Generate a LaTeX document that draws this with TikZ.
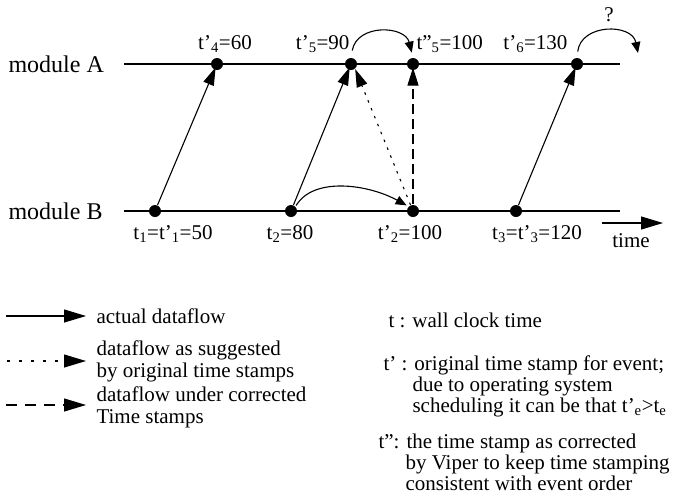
\documentclass[tikz,border=0pt]{standalone}
\usepackage{fontspec}
\setmainfont{Liberation Serif}
\usetikzlibrary{arrows.meta,positioning}

\begin{document}
\begin{tikzpicture}[x=1pt,y=-1pt,line width=1.1pt,
   font=\fontsize{21}{22}\selectfont,
   ev/.style={circle,fill,inner sep=0pt,minimum size=12pt},
   flow/.style={-{Triangle[length=18pt,width=11pt]},shorten >=-3pt},
   bendarr/.style={-{Triangle[length=11pt,width=9pt]}},
   key/.style={-{Triangle[length=22pt,width=13pt]}},
   txt/.style={inner sep=0pt,anchor=base west},
   stamp/.style={inner sep=0pt,anchor=base}]
  \useasboundingbox (0,0) rectangle (683,496);
  % the two time lines
  \node[txt,font=\fontsize{24}{26}\selectfont] (modA) at (8,72) {module A};
  \node[txt,font=\fontsize{24}{26}\selectfont] (modB) at (8,219) {module B};
  \coordinate (A0) at (124,64);
  \coordinate (A1) at (620,64);
  \coordinate (B0) at (124,211);
  \coordinate (B1) at (620,211);
  \draw (A0) -- (A1);
  \draw (B0) -- (B1);
  % events
  \node[ev] (a4)  at (217,64) {};
  \node[ev] (a5)  at (351,64) {};
  \node[ev] (a5c) at (413,64) {};
  \node[ev] (a6)  at (577,64) {};
  \node[ev] (b1)  at (155,211) {};
  \node[ev] (b2)  at (291,211) {};
  \node[ev] (b2c) at (413,211) {};
  \node[ev] (b3)  at (516,211) {};
  % time stamps
  \node[stamp] (sA4) at (225,49) {t'\textsubscript{4}=60};
  \node[stamp,anchor=base east] (sA5) at (350,49) {t'\textsubscript{5}=90};
  \node[stamp,anchor=base west] (sA5c) at (416,49) {t''\textsubscript{5}=100};
  \node[stamp,anchor=base east] (sA6) at (568,49) {t'\textsubscript{6}=130};
  \node[stamp] (sB1) at (173,239) {t\textsubscript{1}=t'\textsubscript{1}=50};
  \node[stamp] (sB2) at (290,239) {t\textsubscript{2}=80};
  \node[stamp] (sB2c) at (410,239) {t'\textsubscript{2}=100};
  \node[stamp] (sB3) at (537,239) {t\textsubscript{3}=t'\textsubscript{3}=120};
  \node[stamp] (timel) at (631,247) {time};
  \coordinate (t0) at (602,223);
  \coordinate (t1) at (663,223);
  \draw[key] (t0) -- (t1);
  % dataflow
  \draw[flow] (b1) -- (a4);
  \draw[flow] (b2) -- (a5);
  \draw[flow] (b3) -- (a6);
  \draw[flow,shorten >=0pt,dash pattern=on 2.5pt off 6pt] (b2c) -- (a5.-50);
  \draw[flow,dash pattern=on 10pt off 5pt] (b2c) -- (a5c);
  % corrections
  \draw[bendarr,shorten <=7pt,shorten >=5pt] (a5.north) .. controls +(6,-34) and +(-8,-32) .. (a5c.north);
  \coordinate (qend) at (638,53);
  \draw[bendarr,shorten <=6pt] (a6.north) .. controls +(4,-34) and +(-6,-30) .. (qend);
  \node[stamp] (qm) at (609,21) {?};
  \draw[bendarr,shorten <=1pt,shorten >=2pt] (b2.north east) .. controls +(18,-30) and +(-40,-22) .. (b2c.north west);
  % legend
  \coordinate (k1s) at (6,316);
  \coordinate (k1e) at (86,316);
  \coordinate (k2s) at (7,361);
  \coordinate (k2e) at (86,361);
  \coordinate (k3s) at (6,405);
  \coordinate (k3e) at (86,405);
  \draw[key] (k1s) -- (k1e);
  \draw[key,dash pattern=on 3pt off 9pt] (k2s) -- (k2e);
  \draw[key,dash pattern=on 11pt off 8pt] (k3s) -- (k3e);
  \node[inner sep=0pt,anchor=west] (k1) at (96,316) {actual dataflow};
  \node[inner sep=0pt,anchor=west,align=left] (k2) at (96,361) {dataflow as suggested\\by original time stamps};
  \node[inner sep=0pt,anchor=west,align=left] (k3) at (96,407) {dataflow under corrected\\Time stamps};
  \node[txt] (kt)   at (388,327) {t : wall clock time};
  \node[txt] (kp)   at (383,370) {t' : original time stamp for event;};
  \node[txt] (kp2)  at (412,391) {due to operating system};
  \node[txt] (kp3)  at (412,412) {scheduling it can be that t'\textsubscript{e}>t\textsubscript{e}};
  \node[txt] (kpp)  at (378,448) {t'': the time stamp as corrected};
  \node[txt] (kpp2) at (405,469) {by Viper to keep time stamping};
  \node[txt] (kpp3) at (405,490) {consistent with event order};
\end{tikzpicture}
\end{document}
